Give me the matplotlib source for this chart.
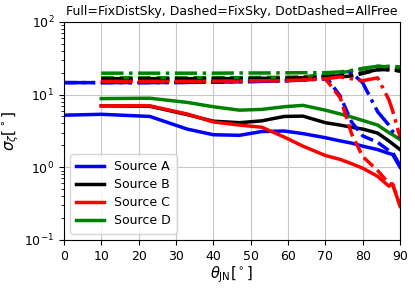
import numpy as np
import matplotlib
matplotlib.use('Agg')
import matplotlib.pyplot as plt

nan = np.nan

# Angulos theta_JN en grados
theta = [0, 10, 23, 33, 40, 47, 53, 59, 64, 70, 74, 77, 80, 84, 87, 88, 90]

# Full = FixDistSky
a_full = [5.2, 5.35, 5.0, 3.35, 2.8, 2.75, 3.1, 3.15, 2.9, 2.55, 2.3, 2.15, 1.95, 1.75, 1.55, 1.5, 1.0]
b_full = [nan, 7.0, 6.9, 5.3, 4.3, 4.1, 4.35, 5.0, 5.05, 4.1, 3.8, 3.55, 3.35, 2.95, 2.3, 2.1, 1.75]
c_full = [nan, 7.0, 7.0, 5.4, 4.2, 3.8, 3.55, 2.6, 1.95, 1.45, 1.28, 1.12, 0.97, 0.75, 0.55, 0.59, 0.29]
d_full = [nan, 8.8, 8.9, 7.8, 6.8, 6.1, 6.25, 6.8, 7.1, 6.1, 5.4, 4.9, 4.4, 3.8, 3.0, 2.8, 2.4]

# Dashed = FixSky
a_dash = [14.6, 14.6, 14.6, 14.7, 14.8, 15.0, 15.2, 15.5, 16.2, 18.0, 9.5, 4.2, 2.7, 2.2, 1.7, 1.6, 1.05]
b_dash = [nan, 16.0, 16.0, 16.0, 16.1, 16.1, 16.2, 16.3, 16.5, 17.0, 17.5, 18.0, 19.5, 22.0, 22.0, 22.0, 21.0]
c_dash = [nan, 15.0, 15.0, 15.0, 15.1, 15.2, 15.3, 15.5, 15.8, 16.5, 9.0, 2.9, 1.4, 0.9, 0.6, 0.58, 0.3]
d_dash = [nan, 17.0, 17.0, 17.0, 17.1, 17.1, 17.2, 17.3, 17.5, 19.0, 20.0, 21.0, 22.5, 24.5, 24.0, 23.5, 22.0]

# DotDashed = AllFree
a_free = [14.6, 14.6, 14.6, 14.7, 14.8, 15.0, 15.2, 15.5, 15.8, 16.5, 18.5, 20.0, 14.5, 5.8, 3.8, 3.1, 2.6]
b_free = [nan, 16.5, 16.5, 16.5, 16.6, 16.6, 16.7, 16.8, 17.0, 17.5, 18.0, 18.5, 20.0, 22.0, 22.0, 22.0, 21.0]
c_free = [nan, 15.2, 15.2, 15.2, 15.3, 15.4, 15.5, 15.6, 15.9, 16.5, 17.5, 16.5, 15.5, 17.0, 8.5, 6.0, 2.6]
d_free = [nan, 19.7, 19.7, 19.7, 19.7, 19.8, 19.8, 19.9, 20.0, 20.0, 20.5, 21.5, 23.0, 24.5, 24.5, 24.5, 24.0]

fuentes = ['Source A', 'Source B', 'Source C', 'Source D']
colores = ['blue', 'black', 'red', 'green']
full = [a_full, b_full, c_full, d_full]
dash = [a_dash, b_dash, c_dash, d_dash]
free = [a_free, b_free, c_free, d_free]

fig = plt.figure(figsize=(4.15, 2.88), dpi=100)
ax = fig.add_axes([0.154, 0.167, 0.81, 0.757])

lw = 2.5
for i in range(4):
    ax.plot(theta, full[i], '-', color=colores[i], lw=lw, label=fuentes[i])
for i in range(4):
    ax.plot(theta, dash[i], '--', color=colores[i], lw=lw)
for i in range(4):
    ax.plot(theta, free[i], '-.', color=colores[i], lw=lw)

ax.set_yscale('log')
ax.set_xlim(0, 90)
ax.set_ylim(0.1, 100)
ax.set_xticks(range(0, 91, 10))
ax.grid(True, which='major', color='#c8c8c8', lw=0.8)
ax.set_axisbelow(True)
ax.tick_params(labelsize=9)

ax.set_xlabel(r'$\theta_{\rm JN}[^\circ]$', fontsize=10.5, labelpad=1)
ax.set_ylabel(r'$\sigma_\zeta[^\circ]$', fontsize=11, labelpad=2)
ax.set_title('Full=FixDistSky, Dashed=FixSky, DotDashed=AllFree', fontsize=9, pad=5)

ax.legend(loc='lower left', fontsize=9, handlelength=2.2, borderpad=0.5,
          labelspacing=0.4, handletextpad=0.8)

fig.savefig('out.png', dpi=100)
